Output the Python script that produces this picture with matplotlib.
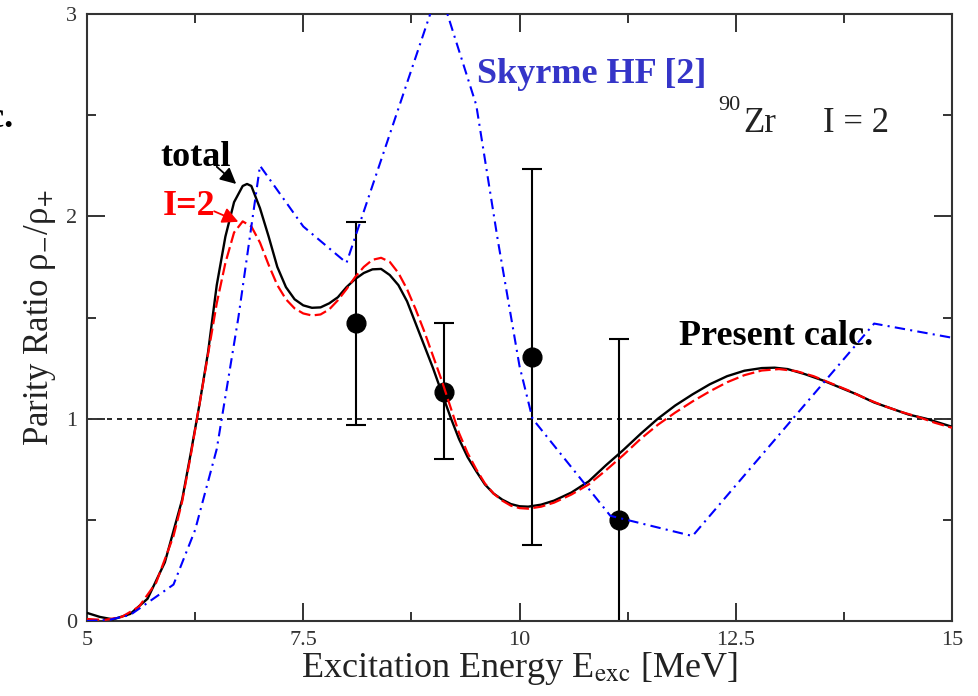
import matplotlib
matplotlib.use("Agg")
import matplotlib.pyplot as plt
from matplotlib.ticker import MultipleLocator

plt.rcParams["font.family"] = ["Liberation Serif", "DejaVu Serif"]
plt.rcParams["mathtext.fontset"] = "stix"

# present calculation, total parity ratio
e_total = [5.0, 5.15, 5.3, 5.5, 5.7, 5.9, 6.1, 6.2, 6.3, 6.4, 6.5, 6.6, 6.7, 6.8, 6.85,
           6.9, 7.0, 7.1, 7.2, 7.3, 7.4, 7.5, 7.6, 7.7, 7.8, 7.9, 8.0, 8.1, 8.2, 8.3,
           8.4, 8.5, 8.6, 8.7, 8.8, 8.9, 9.0, 9.1, 9.2, 9.3, 9.4, 9.5, 9.6, 9.7, 9.8,
           9.9, 10.0, 10.1, 10.25, 10.4, 10.6, 10.8, 11.0, 11.2, 11.4, 11.6, 11.8, 12.0,
           12.2, 12.4, 12.6, 12.8, 12.95, 13.1, 13.3, 13.5, 13.7, 13.9, 14.1, 14.3, 14.5,
           14.7, 14.85, 15.0]
r_total = [0.04, 0.02, 0.008, 0.035, 0.11, 0.29, 0.6, 0.83, 1.07, 1.33, 1.66, 1.9, 2.07,
           2.15, 2.16, 2.15, 2.04, 1.9, 1.75, 1.65, 1.59, 1.56, 1.548, 1.55, 1.57, 1.6,
           1.65, 1.69, 1.72, 1.738, 1.74, 1.71, 1.66, 1.58, 1.47, 1.36, 1.25, 1.13, 1.01,
           0.9, 0.81, 0.74, 0.675, 0.63, 0.6, 0.578, 0.567, 0.565, 0.575, 0.595, 0.635,
           0.69, 0.77, 0.845, 0.925, 1.0, 1.065, 1.12, 1.17, 1.21, 1.237, 1.25, 1.252,
           1.245, 1.22, 1.19, 1.155, 1.12, 1.08, 1.05, 1.02, 1.0, 0.98, 0.96]

# present calculation, I=2 component
e_i2 = [5.0, 5.2, 5.4, 5.6, 5.8, 6.0, 6.1, 6.2, 6.3, 6.4, 6.5, 6.6, 6.7, 6.8, 6.9, 7.0,
        7.1, 7.2, 7.3, 7.4, 7.5, 7.6, 7.7, 7.8, 7.9, 8.0, 8.1, 8.2, 8.3, 8.4, 8.5, 8.6,
        8.7, 8.8, 8.9, 9.0, 9.1, 9.2, 9.3, 9.4, 9.5, 9.6, 9.7, 9.8, 9.9, 10.0, 10.1,
        10.25, 10.4, 10.6, 10.8, 11.0, 11.2, 11.4, 11.6, 11.8, 12.0, 12.2, 12.4, 12.6,
        12.8, 13.0, 13.2, 13.4, 13.6, 13.8, 14.0, 14.2, 14.4, 14.6, 14.8, 15.0]
r_i2 = [0.01, 0.005, 0.02, 0.07, 0.19, 0.42, 0.59, 0.82, 1.07, 1.32, 1.57, 1.77, 1.92,
        1.975, 1.95, 1.87, 1.76, 1.66, 1.59, 1.545, 1.52, 1.51, 1.515, 1.54, 1.585, 1.64,
        1.7, 1.75, 1.785, 1.795, 1.775, 1.72, 1.64, 1.54, 1.43, 1.31, 1.19, 1.06, 0.93,
        0.83, 0.75, 0.68, 0.63, 0.595, 0.57, 0.558, 0.555, 0.565, 0.585, 0.625, 0.675,
        0.745, 0.82, 0.9, 0.97, 1.03, 1.085, 1.135, 1.18, 1.215, 1.238, 1.245, 1.235,
        1.21, 1.175, 1.14, 1.1, 1.065, 1.035, 1.01, 0.98, 0.955]

# Skyrme HF
e_hf = [5.0, 5.25, 5.5, 6.0, 6.25, 6.5, 6.75, 7.0, 7.5, 8.0, 9.07, 9.5, 9.75, 10.0,
        10.15, 11.05, 12.0, 14.1, 15.0]
r_hf = [0.0, 0.005, 0.03, 0.18, 0.45, 0.85, 1.5, 2.25, 1.95, 1.77, 3.13, 2.55, 1.88,
        1.26, 1.0, 0.52, 0.42, 1.47, 1.40]

# experiment
e_exp = [8.11, 9.125, 10.14, 11.15]
r_exp = [1.473, 1.133, 1.307, 0.50]
err_lo = [0.504, 0.333, 0.931, 0.894]
err_hi = [0.499, 0.339, 0.927, 0.894]

fig = plt.figure(figsize=(9.79, 6.96), dpi=100)
ax = fig.add_axes([87 / 979, 75 / 696, 865 / 979, 607 / 696])

ax.axhline(1.0, color="black", lw=1.2, ls=(0, (3, 3)), zorder=1)
ax.errorbar(e_exp, r_exp, yerr=[err_lo, err_hi], fmt="o", color="black", ms=13.5,
            elinewidth=1.5, capsize=7.5, capthick=1.5, zorder=2)
ax.plot(e_total, r_total, color="black", lw=1.7, zorder=3)
ax.plot(e_i2, r_i2, color="red", lw=1.6, ls=(0, (5.5, 2)), zorder=4)
ax.plot(e_hf, r_hf, color="blue", lw=1.5, ls=(0, (5, 2.5, 1, 2.5)), zorder=5)

ax.set_xlim(5, 15)
ax.set_ylim(0, 3)
ax.xaxis.set_minor_locator(MultipleLocator(1.25))
ax.yaxis.set_minor_locator(MultipleLocator(0.5))
ax.set_xticks([5, 7.5, 10, 12.5, 15])
ax.set_xticklabels(["5", "7.5", "10", "12.5", "15"])
ax.set_yticks([0, 1, 2, 3])
ax.set_yticklabels(["0", "1", "2", "3"])
ax.tick_params(which="both", direction="in", top=True, right=True, width=1.4,
               color="#333333", labelsize=16, labelcolor="#333333")
ax.tick_params(which="major", length=13, pad=7)
ax.tick_params(which="minor", length=6.5)
for sp in ax.spines.values():
    sp.set_linewidth(1.5)
    sp.set_color("#333333")

ax.set_xlabel(r"Excitation Energy E$_{\rm exc}$ [MeV]", fontsize=26, color="#222222",
              labelpad=0)
ax.set_ylabel(r"Parity Ratio ρ$_{-}$/ρ$_{+}$", fontsize=25, color="#222222",
              labelpad=6)

# labels for the two calculated curves, with arrows to their first peak
bold = dict(fontsize=26, fontweight="bold")
arrow = dict(arrowstyle="-|>", lw=1.3, mutation_scale=24, shrinkA=0, shrinkB=0)
ax.text(6.25, 2.29, "total", color="black", ha="center", va="center", **bold)
ax.annotate("", xy=(6.725, 2.16), xytext=(6.50, 2.245),
            arrowprops=dict(color="black", **arrow))
ax.text(6.18, 2.05, "I=2", color="red", ha="center", va="center", **bold)
ax.annotate("", xy=(6.75, 1.973), xytext=(6.47, 2.025),
            arrowprops=dict(color="red", **arrow))

ax.text(9.51, 2.66, "Skyrme HF [2]", color="#3535c8", ha="left", va="baseline", **bold)
ax.text(11.84, 1.364, "Present calc.", color="black", ha="left", va="baseline", **bold)
ax.text(12.30, 2.526, "90", fontsize=16, color="#222222", ha="left", va="baseline")
ax.text(12.59, 2.417, "Zr", fontsize=25, color="#222222", ha="left", va="baseline")
ax.text(13.51, 2.417, "I = 2", fontsize=25, color="#222222", ha="left", va="baseline")

# tail of the neighbouring panel's label
fig.text(13 / 979, 1 - 127 / 696, "Present calc.", ha="right", va="baseline",
         color="black", **bold)

fig.savefig("out.png", dpi=100)
